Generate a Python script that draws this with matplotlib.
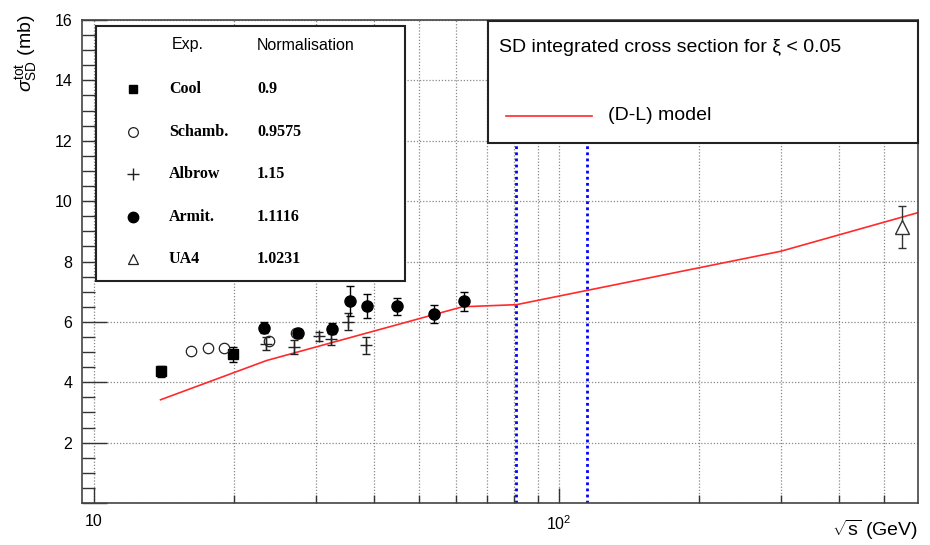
import matplotlib
matplotlib.use("Agg")
import matplotlib.pyplot as plt
from matplotlib.ticker import FixedLocator, FixedFormatter, NullFormatter
from matplotlib.patches import Rectangle
from matplotlib.lines import Line2D

plt.rcParams['font.family'] = ['Liberation Sans', 'DejaVu Sans']
plt.rcParams['mathtext.fontset'] = 'custom'
plt.rcParams['mathtext.rm'] = 'Liberation Sans'
plt.rcParams['mathtext.it'] = 'Liberation Sans:italic'
plt.rcParams['mathtext.bf'] = 'Liberation Sans:bold'

# data (sqrt(s) in GeV, sigma in mb)
cool_x = [13.9, 19.9]
cool_y = [4.36, 4.92]
cool_err = [0.18, 0.25]

schamb_x = [16.2, 17.6, 19.0, 23.8, 27.2]
schamb_y = [5.05, 5.12, 5.12, 5.38, 5.62]

albrow_x = [23.4, 26.9, 30.5, 32.3, 35.2, 38.5]
albrow_y = [5.28, 5.18, 5.52, 5.43, 6.0, 5.22]
albrow_err = [0.22, 0.23, 0.15, 0.2, 0.28, 0.28]

armit_x = [23.2, 27.5, 32.5, 35.5, 38.6, 44.8, 53.8, 62.5]
armit_y = [5.8, 5.62, 5.78, 6.68, 6.52, 6.52, 6.25, 6.68]
armit_err = [0.18, 0.15, 0.18, 0.5, 0.4, 0.28, 0.3, 0.32]

ua4_x = [546]
ua4_y = [9.15]
ua4_err = [0.7]

dl_x = [13.9, 23.5, 62.0, 81.0, 300.0, 592.0]
dl_y = [3.42, 4.72, 6.5, 6.57, 8.34, 9.62]

cut_x = [81, 115]

exp_names = ["Cool", "Schamb.", "Albrow", "Armit.", "UA4"]
exp_norms = ["0.9", "0.9575", "1.15", "1.1116", "1.0231"]

W, H = 930, 545
fig = plt.figure(figsize=(9.3, 5.45), dpi=100)


def fx(px):
    return px / W


def fy(py):
    return 1 - py / H


ax = fig.add_axes([fx(82), fy(503), fx(918) - fx(82), fy(20) - fy(503)])
ax.set_xscale('log')
ax.set_xlim(9.42, 591.6)
ax.set_ylim(0, 16)

ax.xaxis.set_major_locator(FixedLocator([10, 100]))
ax.xaxis.set_major_formatter(FixedFormatter(["10", "$10^{2}$"]))
ax.xaxis.set_minor_locator(FixedLocator([20, 30, 40, 50, 60, 70, 80, 90, 200, 300, 400, 500]))
ax.xaxis.set_minor_formatter(NullFormatter())
ax.yaxis.set_major_locator(FixedLocator([0, 2, 4, 6, 8, 10, 12, 14, 16]))
ax.yaxis.set_minor_locator(FixedLocator([i * 0.5 for i in range(33)]))
ax.yaxis.set_major_formatter(FixedFormatter(["", "2", "4", "6", "8", "10", "12", "14", "16"]))

ax.tick_params(axis='x', which='major', direction='in', length=11, width=1, pad=8,
               labelsize=11.5, color='#333333', top=False)
ax.tick_params(axis='x', which='minor', direction='in', length=5.5, width=1, color='#333333', top=False)
ax.tick_params(axis='y', which='major', direction='in', length=18, width=1, pad=7,
               labelsize=11.5, color='#333333', right=False)
ax.tick_params(axis='y', which='minor', direction='in', length=9, width=1, color='#333333', right=False)
for s in ax.spines.values():
    s.set_color('#444444')
    s.set_linewidth(1.2)

ax.grid(True, which='both', axis='x', ls=(0, (1, 1.5)), color='#888888', lw=0.9)
ax.grid(True, which='major', axis='y', ls=(0, (1, 1.5)), color='#888888', lw=0.9)
ax.set_axisbelow(True)

for c in cut_x:
    ax.axvline(c, color='blue', ls=(0, (1, 1.2)), lw=2, zorder=1.5)

ax.plot(dl_x, dl_y, color='#ff2a2a', lw=1.2, zorder=2)

ax.errorbar(cool_x, cool_y, yerr=cool_err, fmt='s', color='black', ms=6.5,
            capsize=3, elinewidth=1, capthick=1, zorder=3)
ax.errorbar(schamb_x, schamb_y, fmt='o', mfc='none', mec='#222222', ms=7.5, mew=0.9, zorder=3)
ax.errorbar(albrow_x, albrow_y, yerr=albrow_err, fmt='+', color='#222222', ms=9, mew=1,
            capsize=3, elinewidth=1, capthick=1, zorder=3)
ax.errorbar(armit_x, armit_y, yerr=armit_err, fmt='o', color='black', ms=8,
            capsize=3, elinewidth=1, capthick=1, zorder=3)
ax.errorbar(ua4_x, ua4_y, yerr=ua4_err, fmt='^', mfc='white', mec='#333333', color='#333333',
            ms=10, mew=1, capsize=3, elinewidth=1, capthick=1, zorder=3)

# axis titles
fig.text(fx(27), fy(14), r"$\sigma^{\mathrm{tot}}_{\mathrm{SD}}$ (mb)", rotation=90,
         ha='center', va='top', fontsize=14)
fig.text(fx(918), fy(530), r"$\sqrt{\mathrm{s}}$ (GeV)", ha='right', va='center', fontsize=14)

# experiment table (left box)
fig.add_artist(Rectangle((fx(96), fy(281)), fx(405) - fx(96), fy(26) - fy(281),
                         transform=fig.transFigure, facecolor='white', edgecolor='#222222',
                         lw=1.5, zorder=5))
fig.text(fx(172), fy(45), "Exp.", fontsize=11.5, va='center', zorder=6)
fig.text(fx(257), fy(45), "Normalisation", fontsize=11.5, va='center', zorder=6)
row_y = [89, 132, 174, 217, 259]
row_marker = [dict(marker='s', mfc='black', mec='black', ms=6),
              dict(marker='o', mfc='none', mec='#222222', ms=7, mew=0.9),
              dict(marker='+', mec='#222222', ms=9, mew=1),
              dict(marker='o', mfc='black', mec='black', ms=7.5),
              dict(marker='^', mfc='none', mec='#222222', ms=7.5, mew=0.9)]
for yy, name, norm, mk in zip(row_y, exp_names, exp_norms, row_marker):
    fig.add_artist(Line2D([fx(133)], [fy(yy)], transform=fig.transFigure, ls='none',
                          zorder=6, **mk))
    fig.text(fx(169), fy(yy), name, fontsize=11.5, fontweight='bold',
             family='Liberation Serif', va='center', zorder=6)
    fig.text(fx(257), fy(yy), norm, fontsize=11.5, fontweight='bold',
             family='Liberation Serif', va='center', zorder=6)

# model box (right)
fig.add_artist(Rectangle((fx(488), fy(143)), fx(918) - fx(488), fy(21) - fy(143),
                         transform=fig.transFigure, facecolor='white', edgecolor='#222222',
                         lw=1.5, zorder=5))
fig.text(fx(499), fy(48), "SD integrated cross section for \u03be < 0.05", fontsize=14,
         va='center', zorder=6)
fig.add_artist(Line2D([fx(506), fx(592)], [fy(116), fy(116)], transform=fig.transFigure,
                      color='#ff2a2a', lw=1.2, zorder=6))
fig.text(fx(608), fy(116), "(D-L) model", fontsize=14, va='center', zorder=6)

fig.savefig("out.png", dpi=100)
